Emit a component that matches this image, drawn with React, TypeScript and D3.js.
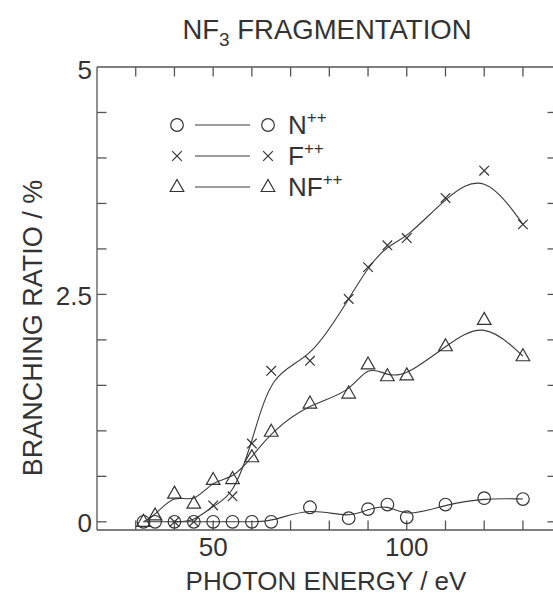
import React from "react";
import * as d3 from "d3";

// Photon energies (eV) at which the branching ratios were measured
const energies = [32, 35, 40, 45, 50, 55, 60, 65, 75, 85, 90, 95, 100, 110, 120, 130];

// Branching ratios (%) per dication fragment
const nValues = [0, 0, 0, 0, 0, 0, 0, 0, 0.16, 0.04, 0.14, 0.19, 0.05, 0.19, 0.26, 0.25];
const fEnergies = [40, 45, 50, 55, 60, 65, 75, 85, 90, 95, 100, 110, 120, 130];
const fValues = [0, 0, 0.18, 0.28, 0.86, 1.66, 1.77, 2.45, 2.8, 3.04, 3.12, 3.56, 3.86, 3.27];
const nfValues = [0, 0.07, 0.31, 0.2, 0.46, 0.47, 0.71, 0.99, 1.3, 1.41, 1.73, 1.6, 1.61, 1.93, 2.22, 1.82];

const xTicks = [30, 40, 50, 60, 70, 80, 90, 100, 110, 120, 130];
const xTickLabels = [50, 100];
const yTicks = [0, 0.5, 1, 1.5, 2, 2.5, 3, 3.5, 4, 4.5];
const yTickLabels = ["0", "2.5", "5"];

const W = 553;
const H = 599;
const INK = "#333";
const FONT = "'Liberation Sans', Arial, Helvetica, sans-serif";

type Pt = [number, number];

function Circle({ x, y }: { x: number; y: number }) {
  return <circle cx={x} cy={y} r={6.3} fill="none" stroke={INK} strokeWidth={1.2} />;
}
function Cross({ x, y }: { x: number; y: number }) {
  const s = 4.8;
  return (
    <path
      d={`M${x - s},${y - s}L${x + s},${y + s}M${x - s},${y + s}L${x + s},${y - s}`}
      stroke={INK}
      strokeWidth={1.2}
      fill="none"
    />
  );
}
function Tri({ x, y }: { x: number; y: number }) {
  const hw = 6.8;
  const top = y - 7.5;
  const bot = y + 4.5;
  return (
    <path
      d={`M${x},${top}L${x + hw},${bot}L${x - hw},${bot}Z`}
      stroke={INK}
      strokeWidth={1.2}
      fill="none"
    />
  );
}

export default function App() {
  const x = d3.scaleLinear().domain([20, 138.8]).range([97, 557]);
  const y = d3.scaleLinear().domain([-0.09, 5]).range([530, 67]);

  const line = d3
    .line<Pt>()
    .x((d) => x(d[0]))
    .y((d) => y(d[1]))
    .curve(d3.curveBasis);

  const nPts: Pt[] = energies.map((e, i) => [e, nValues[i]]);
  const fPts: Pt[] = fEnergies.map((e, i) => [e, fValues[i]]);
  const nfPts: Pt[] = energies.map((e, i) => [e, nfValues[i]]);

  const left = x(20);
  const right = x(138.8);
  const top = y(5);
  const bottom = y(-0.09);
  const tick = 9.5;

  const legendRows = [
    { yy: 125, label: "N", M: Circle },
    { yy: 156, label: "F", M: Cross },
    { yy: 187, label: "NF", M: Tri },
  ];

  return (
    <svg
      width={W}
      height={H}
      style={{ position: "absolute", left: 0, top: 0, background: "#fff" }}
      fontFamily={FONT}
    >
      <rect width={W} height={H} fill="#fff" />

      {/* title */}
      <text x={327} y={39} textAnchor="middle" fontSize={27.5} fill={INK}>
        NF<tspan fontSize={19} dy={7}>3</tspan>
        <tspan dy={-7}> FRAGMENTATION</tspan>
      </text>

      {/* frame */}
      <g stroke="#555" strokeWidth={1.3} fill="none">
        <line x1={left} x2={left} y1={top} y2={bottom} />
        <line x1={left} x2={right} y1={top} y2={top} />
        <line x1={left} x2={right} y1={bottom} y2={bottom} />
        <line x1={right} x2={right} y1={top} y2={bottom} />
        {xTicks.map((t) => (
          <g key={"xt" + t}>
            <line x1={x(t)} x2={x(t)} y1={top} y2={top + tick} />
            <line x1={x(t)} x2={x(t)} y1={bottom} y2={bottom - tick} />
          </g>
        ))}
        {yTicks.map((t) => (
          <g key={"yt" + t}>
            <line x1={left} x2={left + tick} y1={y(t)} y2={y(t)} />
            <line x1={right} x2={right - tick} y1={y(t)} y2={y(t)} />
          </g>
        ))}
      </g>

      {/* tick labels */}
      {xTickLabels.map((t) => (
        <text key={"xl" + t} x={x(t)} y={556} textAnchor="middle" fontSize={26} fill={INK}>
          {t}
        </text>
      ))}
      {yTickLabels.map((t) => (
        <text
          key={"yl" + t}
          x={92}
          y={y(parseFloat(t)) + (t === "5" ? 3 : 1)}
          dy="0.35em"
          textAnchor="end"
          fontSize={26}
          fill={INK}
        >
          {t}
        </text>
      ))}

      {/* axis titles */}
      <text x={326} y={590} textAnchor="middle" fontSize={26} fill={INK}>
        PHOTON ENERGY / eV
      </text>
      <text
        transform="translate(42,328) rotate(-90)"
        textAnchor="middle"
        fontSize={27}
        fill={INK}
      >
        BRANCHING RATIO / %
      </text>

      {/* fitted curves */}
      <g fill="none" stroke="#3a3a3a" strokeWidth={1.1}>
        <path d={line(nPts) || ""} />
        <path d={line(fPts) || ""} />
        <path d={line(nfPts) || ""} />
      </g>

      {/* data markers */}
      {nPts.map((d, i) => (
        <Circle key={"n" + i} x={x(d[0])} y={y(d[1])} />
      ))}
      {fPts.map((d, i) => (
        <Cross key={"f" + i} x={x(d[0])} y={y(d[1])} />
      ))}
      {nfPts.map((d, i) => (
        <Tri key={"nf" + i} x={x(d[0])} y={y(d[1])} />
      ))}

      {/* legend */}
      {legendRows.map(({ yy, label, M }) => (
        <g key={label}>
          <M x={177} y={yy} />
          <line x1={195} x2={250} y1={yy} y2={yy} stroke="#3a3a3a" strokeWidth={1.1} />
          <M x={268} y={yy} />
          <text x={288} y={yy + 9} fontSize={26} fill={INK}>
            {label}
            <tspan fontSize={17} dy={-11}>++</tspan>
          </text>
        </g>
      ))}
    </svg>
  );
}
